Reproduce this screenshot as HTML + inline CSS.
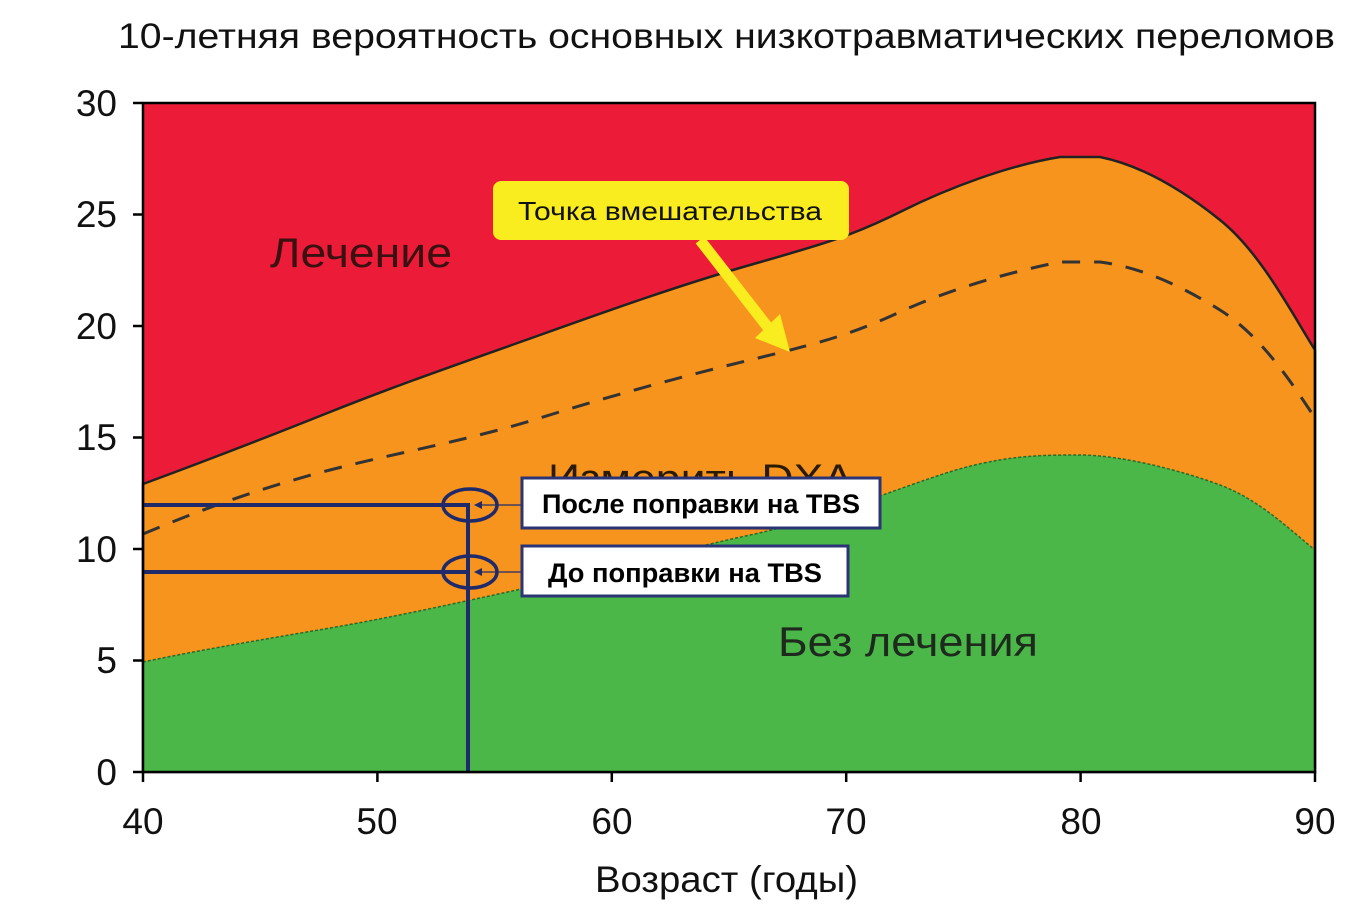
<!DOCTYPE html>
<html><head><meta charset="utf-8"><style>
body{margin:0;background:#fff}
svg{display:block;font-family:"Liberation Sans","DejaVu Sans",sans-serif}
</style></head><body>
<svg width="1368" height="912" viewBox="0 0 1368 912">
<text x="118" y="48" font-size="35" fill="#111" textLength="1217" lengthAdjust="spacingAndGlyphs">10-летняя вероятность основных низкотравматических переломов</text>
<rect x="143" y="103" width="1172" height="669" fill="#ec1c39"/>
<path d="M143,484 C200,463 260,440 330,412 S470,360 540,335 S680,285 750,265 S850,237 900,212 S1010,165 1060,157 L1100,157 C1140,165 1180,188 1220,220 S1290,310 1315,350 L1315,772 L143,772 Z" fill="#f7941e" stroke="#222" stroke-width="2.5"/>
<path d="M143,662 C200,650 260,640 330,628 S470,600 540,585 S680,550 750,535 S880,495 940,475 S1040,455 1080,455 S1180,470 1220,485 S1290,530 1315,550 L1315,772 L143,772 Z" fill="#4bb748" stroke="#2a6a2a" stroke-width="1.5" stroke-dasharray="3,2"/>
<path d="M143,534 C200,510 260,488 330,470 S470,440 540,418 S680,377 750,360 S850,335 900,312 S1010,272 1060,262 L1100,262 C1140,267 1180,285 1220,310 S1290,380 1315,418" fill="none" stroke="#333" stroke-width="3" stroke-dasharray="18,14"/>
<text x="270" y="267" font-size="42" fill="#3a1010" textLength="182" lengthAdjust="spacingAndGlyphs">Лечение</text>
<text x="778" y="656" font-size="42" fill="#1d2a1d" textLength="260" lengthAdjust="spacingAndGlyphs">Без лечения</text>
<text x="548" y="492" font-size="40" fill="#2a1a00" textLength="305" lengthAdjust="spacingAndGlyphs">Измерить DXA</text>
<rect x="493" y="181" width="356" height="59" rx="8" fill="#f9ec1f"/>
<text x="518" y="220" font-size="26" fill="#111" textLength="304" lengthAdjust="spacingAndGlyphs">Точка вмешательства</text>
<line x1="700" y1="240" x2="770" y2="330" stroke="#f9ec1f" stroke-width="11"/>
<polygon points="755,338 790,352 780,314" fill="#f9ec1f"/>
<g stroke="#1f2a6b" fill="none">
<line x1="143" y1="505" x2="470" y2="505" stroke-width="4"/>
<line x1="143" y1="572" x2="470" y2="572" stroke-width="4"/>
<line x1="468" y1="505" x2="468" y2="772" stroke-width="4"/>
<ellipse cx="470" cy="505" rx="27" ry="16" stroke-width="3.5"/>
<ellipse cx="470" cy="572" rx="27" ry="16" stroke-width="3.5"/>
<line x1="478" y1="505" x2="522" y2="505" stroke-width="1.2"/>
<line x1="478" y1="572" x2="522" y2="572" stroke-width="1.2"/>
</g>
<polygon points="474,505 482,501 482,509" fill="#1f2a6b"/>
<polygon points="474,572 482,568 482,576" fill="#1f2a6b"/>
<rect x="522" y="478" width="358" height="50" fill="#fff" stroke="#2b3575" stroke-width="3"/>
<text x="542" y="513" font-size="27" font-weight="bold" fill="#000" textLength="318" lengthAdjust="spacingAndGlyphs">После поправки на TBS</text>
<rect x="522" y="546" width="326" height="50" fill="#fff" stroke="#2b3575" stroke-width="3"/>
<text x="548" y="582" font-size="27" font-weight="bold" fill="#000" textLength="274" lengthAdjust="spacingAndGlyphs">До поправки на TBS</text>
<rect x="143" y="103" width="1172" height="669" fill="none" stroke="#000" stroke-width="2.5"/>
<g stroke="#000" stroke-width="2.5">
<line x1="133" y1="103" x2="143" y2="103"/><line x1="133" y1="214.5" x2="143" y2="214.5"/><line x1="133" y1="326" x2="143" y2="326"/><line x1="133" y1="437.5" x2="143" y2="437.5"/><line x1="133" y1="549" x2="143" y2="549"/><line x1="133" y1="660.5" x2="143" y2="660.5"/><line x1="133" y1="772" x2="143" y2="772"/>
<line x1="143" y1="772" x2="143" y2="782"/><line x1="377.4" y1="772" x2="377.4" y2="782"/><line x1="611.8" y1="772" x2="611.8" y2="782"/><line x1="846.2" y1="772" x2="846.2" y2="782"/><line x1="1080.6" y1="772" x2="1080.6" y2="782"/><line x1="1315" y1="772" x2="1315" y2="782"/>
</g>
<g font-size="37" fill="#111" text-anchor="end">
<text x="117" y="116">30</text><text x="117" y="227">25</text><text x="117" y="339">20</text><text x="117" y="450">15</text><text x="117" y="562">10</text><text x="117" y="673">5</text><text x="117" y="785">0</text>
</g>
<g font-size="37" fill="#111" text-anchor="middle">
<text x="143" y="834">40</text><text x="377" y="834">50</text><text x="612" y="834">60</text><text x="846" y="834">70</text><text x="1081" y="834">80</text><text x="1315" y="834">90</text>
</g>
<text x="595" y="892" font-size="37" fill="#111" textLength="263" lengthAdjust="spacingAndGlyphs">Возраст (годы)</text>
</svg>
</body></html>
